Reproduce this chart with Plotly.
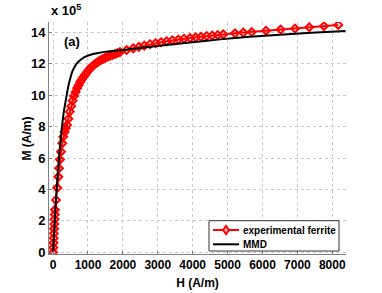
import plotly.graph_objects as go

# experimental ferrite: H (A/m), M (x1e5 A/m)
H_exp = [0, 6, 12, 18, 24, 30, 36, 42, 48, 55, 83, 120, 150, 170, 198, 226, 264, 293,
         330, 365, 400, 440, 480, 520, 560, 600, 645, 690, 735, 780, 825, 870, 920, 970,
         1020, 1070, 1125, 1180, 1240, 1300, 1360, 1425, 1490, 1560, 1630, 1700, 1775,
         1850, 1917, 2109, 2298, 2461, 2613, 2777, 2940, 3092, 3255, 3415, 3587, 3751,
         3923, 4086, 4238, 4401, 4562, 4716, 4877, 5212, 5450, 5690, 6100, 6521, 6931,
         7341, 7762, 8172]
M_exp = [0.0, 0.3, 0.6, 0.9, 1.2, 1.5, 1.8, 2.1, 2.4, 2.7, 3.33, 4.1, 4.8, 5.35, 5.9, 6.4,
         6.94, 7.36, 7.65, 7.9, 8.1, 8.5, 8.95, 9.3, 9.65, 9.95, 10.2, 10.45, 10.65, 10.85,
         11.0, 11.15, 11.3, 11.45, 11.6, 11.72, 11.84, 11.95, 12.05, 12.14, 12.22, 12.3,
         12.37, 12.44, 12.5, 12.56, 12.62, 12.68, 12.74, 12.87, 12.98, 13.07, 13.15, 13.24,
         13.31, 13.37, 13.43, 13.49, 13.54, 13.59, 13.64, 13.68, 13.72, 13.76, 13.80, 13.83,
         13.87, 13.94, 13.98, 14.02, 14.1, 14.18, 14.24, 14.32, 14.39, 14.47]

# MMD model
H_mmd = [0, 50, 100, 170, 255, 312, 390, 440, 484, 550, 620, 676, 750, 820, 930, 1057,
         1300, 1535, 2011, 2490, 2968, 3923, 4782, 5642, 6500, 7400, 8380]
M_mmd = [0.0, 2.0, 4.0, 6.0, 8.0, 9.0, 10.0, 10.6, 11.0, 11.5, 11.8, 12.0, 12.17, 12.3,
         12.45, 12.56, 12.68, 12.77, 12.88, 13.0, 13.12, 13.35, 13.55, 13.72, 13.85, 13.97,
         14.09]

x_ticks = [0, 1000, 2000, 3000, 4000, 5000, 6000, 7000, 8000]
y_ticks = [0, 2, 4, 6, 8, 10, 12, 14]
legend_names = ["experimental ferrite", "MMD"]

FONT = "Liberation Sans, Arial, sans-serif"
W, H = 382, 293
ML, MR, MT, MB = 49, 36, 22, 39
PW, PH = W - ML - MR, H - MT - MB


def px_x(p):
    return (p - ML) / PW


def px_y(p):
    return (H - MB - p) / PH


fig = go.Figure()
fig.add_trace(go.Scatter(
    x=H_exp, y=M_exp, mode="lines+markers", name=legend_names[0],
    line=dict(color="#ff0000", width=2),
    marker=dict(symbol="diamond-open", size=6, color="#ff0000", line=dict(width=2, color="#ff0000")),
))
fig.add_trace(go.Scatter(
    x=H_mmd, y=M_mmd, mode="lines", name=legend_names[1],
    line=dict(color="#000000", width=2, shape="spline", smoothing=0.6),
))

axis_common = dict(
    showgrid=True, gridcolor="#c8c8c8", griddash="dot", gridwidth=1,
    showline=True, linecolor="#808080", linewidth=1,
    ticks="inside", ticklen=3, tickcolor="#808080",
    zeroline=False, automargin=False,
)

fig.update_layout(
    width=W, height=H,
    margin=dict(l=ML, r=MR, t=MT, b=MB),
    paper_bgcolor="white", plot_bgcolor="white",
    font=dict(family=FONT, color="#000"),
    showlegend=False,
    xaxis=dict(range=[-117, 8393], tickvals=x_ticks, ticktext=[f"<b>{v}</b>" for v in x_ticks],
               tickfont=dict(family=FONT, size=12, color="#000"),
               title=dict(text="<b>H (A/m)</b>", font=dict(family=FONT, size=12), standoff=7),
               **axis_common),
    yaxis=dict(range=[-0.108, 14.655], tickvals=y_ticks, ticktext=[f"<b>{v}</b>" for v in y_ticks],
               tickfont=dict(family=FONT, size=13, color="#000"),
               **axis_common),
)

# y-axis title placed as rotated text
fig.add_annotation(xref="paper", yref="paper", x=px_x(26.5), y=px_y(139), textangle=-90,
                   xanchor="center", yanchor="middle", text="<b>M (A/m)</b>", showarrow=False,
                   font=dict(family=FONT, size=12, color="#000"))

# legend box (drawn in paper coordinates)
fig.add_shape(type="rect", xref="paper", yref="paper",
              x0=px_x(209), x1=px_x(339), y0=px_y(251), y1=px_y(220.7),
              line=dict(color="#333", width=1), fillcolor="white", layer="above")
fig.add_shape(type="line", xref="paper", yref="paper",
              x0=px_x(213), x1=px_x(239), y0=px_y(230), y1=px_y(230),
              line=dict(color="#ff0000", width=2), layer="above")
cx, cy = px_x(226), px_y(230)
dx, dy = 3 / PW, 4 / PH
fig.add_shape(type="path", xref="paper", yref="paper",
              path=f"M {cx - dx} {cy} L {cx} {cy + dy} L {cx + dx} {cy} L {cx} {cy - dy} Z",
              line=dict(color="#ff0000", width=2), fillcolor="#ffb0b0", layer="above")
fig.add_shape(type="line", xref="paper", yref="paper",
              x0=px_x(213), x1=px_x(239), y0=px_y(244.3), y1=px_y(244.3),
              line=dict(color="#000000", width=2), layer="above")
for name, py in zip(legend_names, [230, 244.3]):
    fig.add_annotation(xref="paper", yref="paper", x=px_x(241), y=px_y(py),
                       xanchor="left", yanchor="middle", text=f"<b>{name}</b>", showarrow=False,
                       font=dict(family=FONT, size=10, color="#000"))

fig.add_annotation(xref="paper", yref="paper", x=px_x(49), y=px_y(20), xanchor="left", yanchor="bottom",
                   text="<b>x 10<sup>5</sup></b>", showarrow=False,
                   font=dict(family=FONT, size=13, color="#000"))
fig.add_annotation(xref="x", yref="y", x=556, y=13.39, text="<b>(a)</b>", showarrow=False,
                   font=dict(family=FONT, size=13, color="#000"))

fig.write_html("out.html", config={"displayModeBar": False},
               post_script="document.body.style.margin='0px';document.body.style.overflow='hidden';")
